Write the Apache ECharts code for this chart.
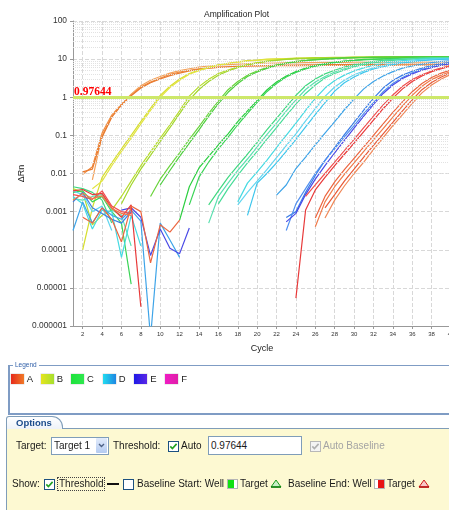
<!DOCTYPE html>
<html><head><meta charset="utf-8">
<script src="https://cdn.jsdelivr.net/npm/echarts@6/dist/echarts.min.js"></script>
<style>
html,body{margin:0;padding:0;background:#fff;width:449px;height:510px;overflow:hidden;font-family:"Liberation Sans",Arial,sans-serif;}
#chart{position:absolute;left:0;top:0;width:449px;height:510px;}
.a{position:absolute;white-space:nowrap;}
.t{font-size:10px;line-height:12px;color:#1a1a1a;}
.cb{position:absolute;width:10px;height:10px;}
</style></head><body>
<div id="chart"></div>
<div id="ui"></div>
<script>
const _ = null;
const cycles = [1,2,3,4,5,6,7,8,9,10,11,12,13,14,15,16,17,18,19,20,21,22,23,24,25,26,27,28,29,30,31,32,33,34,35,36,37,38,39,40];
const yTickLabels = ['0.000001','0.00001','0.0001','0.001','0.01','0.1','1','10','100'];
const thresholdValue = 0.97644;
const thresholdText = '0.97644';
const legendRows = ['A','B','C','D','E','F'];

const orange1 = [_,9.5e-3,1.5e-2,0.115,0.34,0.66,1.15,1.86,2.5,3.16,
 4.0,4.6,5.1,5.6,5.9,6.2,6.3,6.5,6.6,6.6,
 6.6,6.7,6.7,6.7,6.7,6.7,6.8,6.8,6.8,6.8,
 6.8,6.8,6.8,6.8,6.9,6.9,6.9,6.9,6.9,6.9];
const orange2 = [_,_,6.8e-3,0.10,0.32,0.64,1.2,2.0,2.8,3.5,
 4.3,5.0,5.6,6.2,6.6,6.9,7.2,7.4,7.6,7.7,
 7.8,7.9,8.0,8.0,8.1,8.1,8.2,8.2,8.2,8.3,
 8.3,8.3,8.3,8.3,8.3,8.3,8.3,8.4,8.4,8.4];
const orange3 = [_,1.1e-2,1.3e-2,9.0e-2,0.30,0.62,1.1,1.75,2.4,3.0,
 3.7,4.3,4.9,5.4,5.8,6.1,6.3,6.5,6.6,6.7,
 6.8,6.9,7.0,7.0,7.1,7.1,7.2,7.2,7.2,7.3,
 7.3,7.3,7.3,7.4,7.4,7.4,7.4,7.4,7.5,7.5];
const yellow1 = [_,1.0e-4,1.26e-3,7.9e-3,1.9e-2,4.4e-2,0.1,0.23,0.51,1.12,
 1.95,3.0,4.2,5.2,6.2,7.1,7.8,8.5,9.1,9.5,
 10,10.2,10.4,10.6,10.7,10.8,10.9,11,11,11.1,
 11.1,11.2,11.2,11.3,11.3,11.3,11.4,11.4,11.4,11.5];
const yellow2 = [_,_,4.0e-3,6.3e-3,1.6e-2,3.8e-2,8.5e-2,0.2,0.45,1.0,
 1.8,2.8,4.0,5.0,6.0,6.9,7.6,8.3,8.9,9.3,
 9.7,10,10.2,10.4,10.5,10.6,10.7,10.8,10.9,10.9,
 11,11,11.1,11.1,11.2,11.2,11.2,11.3,11.3,11.3];
const lime1 = [4.0e-3,3.2e-3,4.5e-4,8.0e-4,1.1e-3,2.5e-3,6.3e-3,1.6e-2,3.7e-2,8.5e-2,
 0.19,0.44,1.07,1.9,2.95,4.2,5.2,6.3,7.2,8.1,
 8.9,9.5,10,10.5,10.7,10.9,11,11.1,11.2,11.3,
 11.3,11.4,11.4,11.5,11.5,11.5,11.6,11.6,11.6,11.7];
const lime2 = [_,_,_,_,_,1.6e-3,5.0e-3,1.3e-2,3.0e-2,7.0e-2,
 0.16,0.37,0.85,1.6,2.6,3.8,4.9,6.0,7.0,7.9,
 8.7,9.3,9.8,10.2,10.4,10.6,10.8,10.9,11,11.1,
 11.1,11.2,11.2,11.3,11.3,11.4,11.4,11.4,11.5,11.5];
const green1 = [_,_,_,_,_,_,_,_,2.5e-3,7.1e-3,
 1.6e-2,3.5e-2,7.9e-2,0.17,0.38,0.79,1.58,2.6,3.8,4.9,
 6.0,7.1,7.9,8.7,9.3,9.8,10.2,10.5,10.8,11,
 11.2,11.3,11.4,11.5,11.5,11.6,11.6,11.7,11.7,11.7];
const green2 = [_,_,_,_,_,_,_,_,_,5.0e-3,
 1.2e-2,2.8e-2,6.3e-2,0.14,0.32,0.68,1.35,2.3,3.5,4.6,
 5.7,6.8,7.7,8.5,9.1,9.6,10,10.3,10.6,10.8,
 11,11.1,11.2,11.3,11.3,11.4,11.4,11.5,11.5,11.5];
const green3 = [_,_,_,_,_,_,_,_,_,_,
 _,6.0e-4,4.5e-3,1.4e-2,2.8e-2,5.6e-2,0.11,0.23,0.44,0.83,
 1.55,2.5,3.6,4.7,5.8,6.8,7.6,8.3,8.9,9.3,
 9.8,10,10.2,10.4,10.5,10.6,10.7,10.8,10.9,11];
const green4 = [3.2e-3,3.5e-3,1.8e-3,2.5e-3,1.0e-3,5.0e-4,1.26e-5,_,_,_,
 _,_,1.5e-3,8.0e-3,2.0e-2,4.4e-2,9.0e-2,0.19,0.38,0.74,
 1.4,2.3,3.4,4.5,5.5,6.5,7.3,8.1,8.7,9.2,
 9.6,9.9,10.1,10.3,10.4,10.5,10.6,10.7,10.8,10.8];
const teal1 = [4.5e-3,4.0e-3,3.2e-3,2.0e-3,5.0e-4,_,_,_,_,_,
 _,_,_,_,1.5e-3,3.5e-3,7.9e-3,1.6e-2,3.2e-2,6.6e-2,
 0.14,0.28,0.56,1.12,2.0,3.0,4.1,5.1,6.2,7.1,
 7.9,8.7,9.3,9.8,10.2,10.5,10.7,10.9,11,11.1];
const teal2 = [2.2e-3,2.0e-3,2.5e-3,2.8e-3,1.1e-3,8.0e-4,1.26e-4,_,_,_,
 _,_,_,_,5.0e-4,2.5e-3,5.6e-3,1.2e-2,2.4e-2,5.0e-2,
 0.105,0.21,0.43,0.85,1.6,2.5,3.5,4.6,5.6,6.6,
 7.4,8.3,8.9,9.5,10,10.3,10.5,10.7,10.8,10.9];
const teal3 = [_,_,_,_,_,_,_,_,_,_,
 _,_,_,_,_,1.6e-3,4.0e-3,8.9e-3,1.9e-2,3.8e-2,
 7.9e-2,0.16,0.33,0.66,1.26,2.1,3.2,4.2,5.2,6.3,
 7.2,7.9,8.7,9.3,9.8,10.1,10.3,10.5,10.6,10.7];
const cyan1 = [2.5e-3,1.6e-3,3.5e-4,1.1e-3,1.0e-3,6.3e-5,8.0e-4,1.26e-4,_,_,
 _,_,_,_,_,_,_,1.8e-3,5.6e-3,1.1e-2,
 2.2e-2,4.8e-2,0.1,0.21,0.45,0.93,1.74,2.75,3.8,4.9,
 5.9,6.9,7.8,8.5,9.1,9.5,10,10.2,10.4,10.5];
const cyan2 = [3.5e-3,2.8e-3,1.0e-3,1.4e-3,3.2e-4,_,_,_,_,_,
 _,_,_,_,_,_,_,1.5e-3,3.2e-3,6.3e-3,
 1.26e-2,2.6e-2,5.4e-2,0.11,0.24,0.5,1.05,1.86,2.8,3.9,
 4.9,5.9,6.8,7.6,8.3,8.9,9.3,9.8,10,10.2];
const cyan3 = [_,_,_,_,_,_,_,_,_,_,
 _,_,_,_,_,_,_,_,8.0e-4,5.6e-3,
 1.0e-2,1.9e-2,3.8e-2,7.9e-2,0.166,0.35,0.72,1.45,2.4,3.4,
 4.5,5.5,6.3,7.2,7.9,8.5,9.1,9.5,9.8,10];
const sky1 = [3.2e-4,1.8e-3,5.0e-4,1.26e-3,8.0e-4,6.3e-4,1.1e-3,5.6e-4,5.0e-7,5.0e-4,
 1.8e-4,6.3e-5,_,_,_,_,_,_,_,_,
 _,2.7e-3,5.0e-3,1.35e-2,2.7e-2,5.6e-2,0.115,0.23,0.47,0.91,
 1.66,2.6,3.6,4.7,5.8,6.6,7.4,8.1,8.7,9.1];
const blue1 = [1.8e-3,3.2e-3,1.26e-3,8.9e-4,6.3e-4,5.0e-4,1.0e-3,_,_,_,
 _,_,_,_,_,_,_,_,_,_,
 _,_,7.0e-4,1.0e-3,3.2e-3,8.9e-3,2.2e-2,4.8e-2,0.105,0.22,
 0.46,0.93,1.74,2.75,3.8,4.8,5.8,6.8,7.6,8.3];
const blue2 = [_,_,_,_,_,_,_,_,_,_,
 _,_,_,_,_,_,_,_,_,_,
 _,_,3.2e-4,1.6e-3,4.0e-3,1.0e-2,2.2e-2,4.5e-2,9.1e-2,0.18,
 0.37,0.72,1.4,2.3,3.3,4.4,5.4,6.3,7.1,7.8];
const violet1 = [_,_,_,_,_,1.1e-3,1.26e-3,7.1e-4,7.1e-5,3.5e-4,
 1.1e-4,7.9e-5,3.7e-4,_,_,_,_,_,_,_,
 _,_,5.4e-4,9.0e-4,2.8e-3,7.1e-3,1.6e-2,3.5e-2,7.4e-2,0.155,
 0.32,0.65,1.26,2.1,3.1,4.1,5.1,6.0,6.9,7.6];
const red1 = [3.5e-3,3.8e-3,2.8e-3,3.0e-3,1.26e-3,7.1e-4,1.5e-3,3.2e-6,_,_,
 _,_,_,_,_,_,_,_,_,_,
 _,_,_,5.4e-6,1.1e-3,3.7e-3,7.9e-3,1.6e-2,3.2e-2,6.3e-2,
 0.126,0.25,0.5,0.95,1.66,2.6,3.6,4.7,5.6,6.6];
const red2 = [2.8e-3,2.5e-3,2.1e-3,3.5e-3,1.4e-3,1.0e-3,8.9e-4,_,_,_,
 _,_,_,_,_,_,_,_,_,_,
 _,_,_,_,2.5e-3,5.0e-3,1.0e-2,2.0e-2,4.0e-2,7.9e-2,
 0.16,0.32,0.63,1.15,1.95,2.9,3.9,4.9,5.9,6.8];
const red3 = [_,7.1e-4,5.0e-4,1.26e-3,6.3e-4,1.6e-4,1.4e-3,1.0e-3,4.5e-5,4.5e-4,
 2.9e-4,6.0e-4,_,_,_,_,_,_,_,_,
 _,_,_,_,_,6.8e-4,2.5e-3,6.0e-3,1.26e-2,2.5e-2,
 5.0e-2,0.1,0.2,0.4,0.76,1.4,2.3,3.3,4.3,5.2];
const red4 = [2.0e-3,3.0e-3,2.2e-3,2.6e-3,1.2e-3,9.0e-4,8.0e-4,_,_,_,
 _,_,_,_,_,_,_,_,_,_,
 _,_,_,_,_,4.0e-4,1.8e-3,4.5e-3,9.5e-3,1.9e-2,
 3.8e-2,7.6e-2,0.15,0.3,0.59,1.12,1.95,2.9,3.8,4.8];
const red5 = [_,_,_,_,_,_,_,_,_,_,
 _,_,_,_,_,_,_,_,_,_,
 _,_,_,_,_,_,1.26e-3,2.8e-3,6.3e-3,1.3e-2,
 2.7e-2,5.5e-2,0.11,0.22,0.44,0.85,1.58,2.45,3.4,4.4];
const red6 = [_,_,_,_,_,_,_,_,_,_,
 _,_,_,_,_,_,_,_,_,_,
 _,_,_,_,_,_,6.8e-4,2.0e-3,4.7e-3,1.0e-2,
 2.0e-2,4.2e-2,8.7e-2,0.18,0.35,0.69,1.3,2.1,3.0,4.0];

const wells = [orange1,orange2,orange3,yellow1,yellow2,lime1,lime2,green1,green2,green3,green4,
  teal1,teal2,teal3,cyan1,cyan2,cyan3,sky1,blue1,blue2,violet1,red1,red2,red3,red4,red5,red6];
const lineColors = ['#f0883a','#f3a25c','#e87a30','#d6de2e','#e2e442','#b6dc2c','#a2d62e','#6ad43c','#4ecf40','#2ccf40','#3ad456',
  '#40d880','#5ce0b0','#48dc98','#46dae2','#62d6f0','#3ec6ec','#3ea4e8','#3a7ee6','#5090f0','#4a4ae6',
  '#e83a3a','#f05050','#ec6640','#f07a4a','#e85a38','#f08858'];

const nulls = cycles.map(() => null);
const minorLines = [];
for (let e = -6; e < 2; e++) for (let m = 2; m <= 9; m++) minorLines.push({yAxis: m * Math.pow(10, e)});

const series = wells.map((d, i) => ({
  type: 'line', data: d, symbol: 'none', showSymbol: false, connectNulls: false,
  lineStyle: {width: 1.2, color: lineColors[i]}, itemStyle: {color: lineColors[i]},
  silent: true, z: 3
}));
series.unshift({
  type: 'line', data: nulls, symbol: 'none', silent: true, z: 1,
  markLine: {silent: true, symbol: ['none','none'], animation: false, label: {show: false},
    lineStyle: {type: 'dotted', color: '#e2e2e2', width: 1}, data: minorLines}
});
series.push({
  type: 'line', data: nulls, symbol: 'none', silent: true, z: 10,
  markLine: {silent: true, symbol: ['none','none'], animation: false,
    lineStyle: {type: 'solid', color: '#cde86a', width: 3},
    label: {show: true, position: 'insideStartTop', formatter: thresholdText, color: '#ff0000',
      fontFamily: 'Liberation Serif', fontWeight: 'bold', fontSize: 11.5, distance: [1, 0]},
    data: [{yAxis: thresholdValue}]}
});

const isEven = (idx) => idx % 2 === 1;
const chart = echarts.init(document.getElementById('chart'), null, {renderer: 'canvas'});
chart.setOption({
  animation: false,
  backgroundColor: 'transparent',
  title: {text: 'Amplification Plot', left: 199, top: 5,
    textStyle: {fontSize: 8.5, fontWeight: 'normal', color: '#222', fontFamily: 'Liberation Sans'}},
  grid: {left: 73, right: -2, top: 21, bottom: 184, containLabel: false, outerBoundsMode: 'none'},
  xAxis: {
    type: 'category', data: cycles, boundaryGap: false,
    name: 'Cycle', nameLocation: 'middle', nameGap: 18,
    nameTextStyle: {fontSize: 9, color: '#222', fontFamily: 'Liberation Sans'},
    axisLine: {lineStyle: {color: '#999'}},
    axisTick: {show: true, length: 3, interval: isEven, lineStyle: {color: '#999'}},
    axisLabel: {interval: isEven, fontSize: 6, color: '#333', margin: 5, fontFamily: 'Liberation Sans', hideOverlap: false},
    splitLine: {show: true, interval: isEven, lineStyle: {type: 'dashed', color: '#d8d8d8'}}
  },
  yAxis: {
    type: 'log', logBase: 10, min: 1e-6, max: 100, splitNumber: 8,
    name: 'ΔRn', nameLocation: 'middle', nameGap: 47, nameRotate: 90, nameMoveOverlap: false,
    nameTextStyle: {fontSize: 9, color: '#222', fontFamily: 'Liberation Sans'},
    axisLine: {show: true, lineStyle: {color: '#999'}},
    axisTick: {show: true, length: 3, lineStyle: {color: '#999'}},
    axisLabel: {fontSize: 8.4, color: '#333', margin: 6, fontFamily: 'Liberation Sans',
      formatter: (v) => yTickLabels[Math.round(Math.log10(v)) + 6]},
    splitLine: {show: true, lineStyle: {type: 'dashed', color: '#d8d8d8'}}
  },
  series: series
});

// ---------- UI panel below the chart ----------
const legendGrad = {
  A: 'linear-gradient(to right,#e62a1c,#f07a28)',
  B: 'linear-gradient(to right,#e6e41e,#a6e02e)',
  C: 'linear-gradient(to right,#1ee23c,#2ee84e)',
  D: 'linear-gradient(to right,#22dcf0,#1f86e2)',
  E: 'linear-gradient(to right,#1e1ae6,#5a26e6)',
  F: 'linear-gradient(to right,#f01cc4,#e01ea8)'
};
const chk = (on, grey) => `<svg width="11" height="11" style="display:block"><rect x="0.5" y="0.5" width="10" height="10" fill="${grey?'#f4f4f4':'#fff'}" stroke="${grey?'#b8b8b8':'#1c5180'}"/>` +
  (on ? `<polyline points="2.3,5.4 4.4,7.6 8.6,2.9" fill="none" stroke="${grey?'#b0b0b0':'#21a121'}" stroke-width="1.6"/>` : '') + '</svg>';
let html = '';
html += '<div class="a" style="left:8px;top:365px;width:470px;height:47px;border-top:1px solid #7f9cc4;border-left:2px solid #7f9cc4;border-bottom:2px solid #7f9cc4;"></div>';
html += '<div class="a" style="left:13px;top:361px;font-size:6.5px;line-height:8px;color:#2f5fa8;background:#fff;padding:0 2px;">Legend</div>';
const legX = [10.7, 40.7, 71, 102.7, 134.3, 165.3];
legendRows.forEach((r, i) => {
  html += `<div class="a" style="left:${legX[i]}px;top:374px;width:13px;height:10px;background:${legendGrad[r]};box-shadow:0 0 0 0.5px rgba(200,200,200,0.7);"></div>`;
  html += `<div class="a t" style="left:${legX[i]+16}px;top:373px;font-size:9.5px;color:#222;">${r}</div>`;
});
html += '<div class="a" style="left:6px;top:428px;width:470px;height:90px;background:#fdf9d2;border-left:1px solid #7f9db9;border-top:1px solid #7f9db9;"></div>';
html += '<div class="a" style="left:6px;top:416px;width:55px;height:12px;background:linear-gradient(#ffffff,#eef2f8);border:1px solid #7f9db9;border-bottom:none;border-radius:3px 11px 0 0;"></div>';
html += '<div class="a" style="left:16px;top:417px;font-size:9.5px;line-height:12px;font-weight:bold;color:#1c4c8c;">Options</div>';
html += '<div class="a t" style="left:16px;top:440px;">Target:</div>';
html += '<div class="a" style="left:51px;top:437px;width:56px;height:16px;background:#fff;border:1px solid #7f9db9;"></div>';
html += '<div class="a t" style="left:54px;top:440px;">Target 1</div>';
html += '<div class="a" style="left:96px;top:438px;width:11px;height:15px;background:linear-gradient(#e2ebfb,#b4cbf1);border-radius:1px;"><svg width="11" height="15" style="display:block"><polyline points="3,6 5.5,8.5 8,6" fill="none" stroke="#4d6185" stroke-width="1.4"/></svg></div>';
html += '<div class="a t" style="left:113px;top:440px;">Threshold:</div>';
html += `<div class="cb" style="left:168px;top:441px;">${chk(true,false)}</div>`;
html += '<div class="a t" style="left:181px;top:440px;">Auto</div>';
html += '<div class="a" style="left:208px;top:436px;width:92px;height:17px;background:#fff;border:1px solid #7f9db9;"></div>';
html += '<div class="a t" style="left:211px;top:440px;">0.97644</div>';
html += `<div class="cb" style="left:310px;top:441px;">${chk(true,true)}</div>`;
html += '<div class="a t" style="left:323px;top:440px;color:#a4a4a4;">Auto Baseline</div>';
html += '<div class="a t" style="left:12px;top:478px;">Show:</div>';
html += `<div class="cb" style="left:44px;top:479px;">${chk(true,false)}</div>`;
html += '<div class="a" style="left:57px;top:477px;width:46px;height:12px;border:1px dotted #444;"></div>';
html += '<div class="a t" style="left:59px;top:478px;">Threshold</div>';
html += '<div class="a" style="left:107px;top:483px;width:12px;height:2px;background:#111;"></div>';
html += `<div class="cb" style="left:123px;top:479px;">${chk(false,false)}</div>`;
html += '<div class="a t" style="left:137px;top:478px;">Baseline Start: Well</div>';
html += '<div class="a" style="left:227px;top:479px;width:9px;height:8px;border:1px solid #b5b5b5;background:linear-gradient(to right,#12e012 0,#12e012 62%,#fff 62%);"></div>';
html += '<div class="a t" style="left:240px;top:478px;">Target</div>';
html += '<svg class="a" style="left:270px;top:479px;" width="12" height="9"><polygon points="6,1 11,8 1,8" fill="#c8f0c8" stroke="#1a9a1a" stroke-width="1"/><line x1="1" y1="8" x2="11" y2="8" stroke="#0a7a0a" stroke-width="1.4"/></svg>';
html += '<div class="a t" style="left:288px;top:478px;">Baseline End: Well</div>';
html += '<div class="a" style="left:374px;top:479px;width:9px;height:8px;border:1px solid #b5b5b5;background:linear-gradient(to right,#fff 0,#fff 38%,#e81414 38%);"></div>';
html += '<div class="a t" style="left:387px;top:478px;">Target</div>';
html += '<svg class="a" style="left:418px;top:479px;" width="12" height="9"><polygon points="6,1 11,8 1,8" fill="#f8c8c8" stroke="#d01818" stroke-width="1"/><line x1="1" y1="8" x2="11" y2="8" stroke="#b00a0a" stroke-width="1.4"/></svg>';
document.getElementById('ui').innerHTML = html;
</script></body></html>
